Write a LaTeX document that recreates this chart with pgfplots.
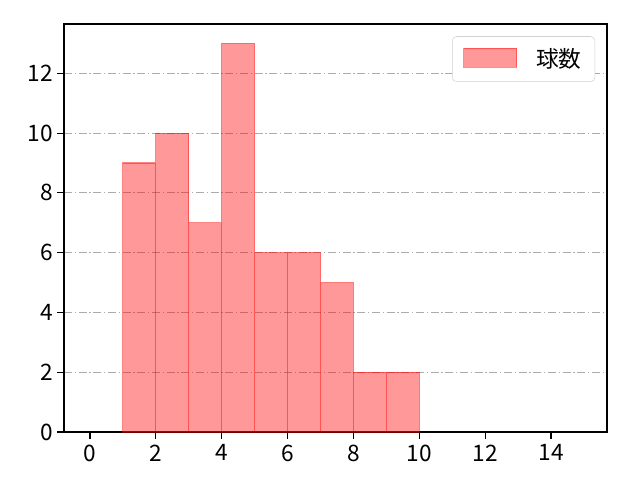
\documentclass[border=0pt]{standalone}
\usepackage{pgfplots}
\pgfplotsset{compat=1.18}
\usepackage{fontspec}
\setmainfont{Noto Sans CJK JP}
\begin{document}
\begin{tikzpicture}
\path[use as bounding box] (0pt,0pt) rectangle (480pt,360pt);
\begin{axis}[
  at={(48pt,36pt)}, anchor=south west,
  scale only axis, width=407.25pt, height=306pt,
  xmin=-0.79, xmax=15.7, ymin=0, ymax=13.65,
  xtick={0,2,...,14}, ytick={0,2,...,12},
  ymajorgrids, grid style={gray!65, dash pattern=on 6pt off 2pt on 1pt off 2pt, line width=0.6pt},
  tick style={black, line width=0.8pt}, major tick length=5pt,
  tick align=outside, xtick pos=bottom, ytick pos=left,
  axis line style={line width=0.9pt},
  font=\fontsize{17}{20}\selectfont,
  xticklabel style={yshift=-1pt},
  /pgf/number format/assume math mode=true,
  legend style={at={(0.978,0.97)}, anchor=north east, draw=gray!35, rounded corners=3pt, inner xsep=8pt, inner ysep=7pt, font=\fontsize{17}{20}\selectfont},
  legend cell align=left,
  legend image code/.code={\draw[#1, sharp corners] (0pt,-6pt) rectangle (40pt,8pt);},
]
\addplot[ybar interval, fill=red, fill opacity=0.4, draw=red, draw opacity=0.45, line width=0.8pt] coordinates {
(1,9) (2,10) (3,7) (4,13) (5,6) (6,6) (7,5) (8,2) (9,2) (10,2)
};
\addlegendentry{\hspace{12pt}球数}
\end{axis}
\end{tikzpicture}
\end{document}
